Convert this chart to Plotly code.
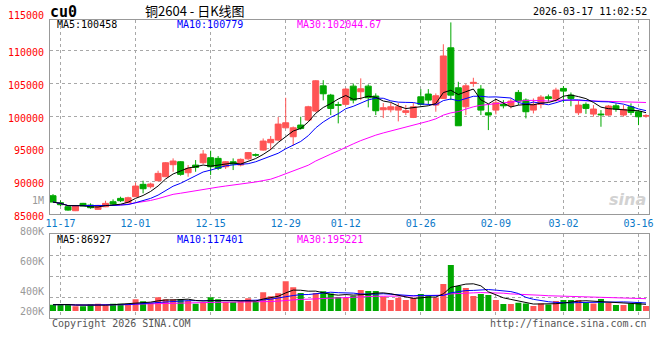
import plotly.graph_objects as go
import pandas as pd

# ---------------- data ----------------
dates = ["11-14",
         "11-17", "11-18", "11-19", "11-20", "11-21",
         "11-24", "11-25", "11-26", "11-27", "11-28",
         "12-01", "12-02", "12-03", "12-04", "12-05",
         "12-08", "12-09", "12-10", "12-11", "12-12",
         "12-15", "12-16", "12-17", "12-18", "12-19",
         "12-22", "12-23", "12-24", "12-25", "12-26",
         "12-29", "12-30", "12-31",
         "01-05", "01-06", "01-07", "01-08", "01-09",
         "01-12", "01-13", "01-14", "01-15", "01-16",
         "01-19", "01-20", "01-21", "01-22", "01-23",
         "01-26", "01-27", "01-28", "01-29", "01-30",
         "02-02", "02-03", "02-04", "02-05", "02-06",
         "02-09", "02-10", "02-11", "02-12", "02-13",
         "02-24", "02-25", "02-26", "02-27",
         "03-02", "03-03", "03-04", "03-05", "03-06",
         "03-09", "03-10", "03-11", "03-12", "03-13",
         "03-16", "03-17"]

opens = [87800, 86730, 86120, 85500, 86630, 86370, 85710, 86110, 86880, 87390,
         86730, 87650, 89540, 89180, 90100, 90710, 92550, 93000, 91320, 92490,
         92850, 93620, 93520, 92230, 93000, 92500, 93450, 94080, 94790, 95910,
         96320, 98200, 96830, 98620, 99380, 100760, 104630, 103210, 101750, 101790,
         104580, 103720, 104580, 103060, 100960, 100960, 100910, 100560, 99790, 102950,
         103370, 101680, 102700, 110450, 104330, 101420, 105000, 104130, 100500, 100910,
         101790, 101570, 103620, 102450, 100910, 101790, 102950, 102600, 104230, 103210,
         100500, 101790, 100300, 100300, 100150, 101570, 100150, 101420, 100660, 99990]

highs = [88050, 87080, 86200, 86300, 86700, 86630, 86400, 87030, 87240, 87650,
         87650, 89790, 90100, 89790, 91630, 92950, 93520, 93100, 92500, 93260,
         94790, 94690, 93870, 93100, 93520, 93500, 94500, 94270, 96570, 96940,
         99850, 102800, 98400, 99900, 101570, 105500, 105500, 103400, 102180, 104300,
         104990, 105770, 104850, 103470, 101990, 101990, 101990, 101680, 101990, 104130,
         104130, 103470, 111000, 114340, 105250, 104940, 105860, 104740, 101680, 102440,
         102440, 102700, 103980, 102700, 102700, 103200, 103300, 104330, 104600, 103610,
         102440, 102090, 101680, 100910, 101680, 101940, 101680, 101940, 100910, 100300]

lows = [86800, 86220, 85500, 85450, 86200, 85800, 85650, 86050, 86370, 86830,
        86700, 87600, 88160, 88920, 90000, 90650, 91470, 90860, 90700, 91470,
        92650, 90960, 91730, 91900, 91730, 92300, 93300, 93770, 94690, 94790,
        96200, 98100, 95500, 97920, 99230, 100600, 102400, 100150, 98880, 101600,
        101940, 102440, 101330, 100150, 99690, 100560, 99180, 100150, 99690, 101680,
        101790, 100660, 102600, 102450, 98510, 100150, 104480, 100150, 97850, 100250,
        101170, 101170, 101680, 99640, 100400, 101180, 102190, 102200, 102050, 101500,
        100150, 100330, 99900, 98360, 100050, 100660, 99900, 100150, 98610, 99740]

closes = [86830, 86420, 85600, 86270, 86220, 85960, 86320, 86630, 86520, 87030,
          87490, 89280, 88870, 89590, 91220, 92850, 93110, 91070, 91990, 92140,
          94180, 92240, 91990, 93000, 92650, 93370, 94400, 94020, 96170, 96430,
          98770, 98970, 98200, 98110, 101420, 105400, 103410, 101170, 101650, 104130,
          102440, 104180, 102800, 100810, 101270, 101420, 101420, 100810, 101420, 101790,
          102440, 103110, 109200, 103200, 98510, 104630, 105150, 100910, 100150, 102030,
          101570, 102290, 102290, 100660, 101790, 102900, 102700, 103980, 103820, 102700,
          101680, 101170, 101070, 100200, 101530, 101070, 101020, 100560, 99890, 100060]

volumes = [100800, 107200, 100800, 75200, 75200, 107200, 116800, 91200, 116800, 116800,
           116800, 187200, 155200, 132800, 219200, 187200, 187200, 187200, 164800, 116800,
           144000, 219200, 187200, 144000, 144000, 155200, 203200, 155200, 299200, 235200,
           283200, 475200, 379200, 288000, 160000, 288000, 315200, 280000, 224000, 208000,
           244800, 336000, 320000, 320000, 228800, 176000, 212800, 176000, 212800, 272000,
           240000, 216000, 432000, 736000, 400000, 368000, 240000, 272000, 256000, 176000,
           112000, 112000, 132800, 120000, 80000, 120000, 104000, 160000, 176000, 176000,
           176000, 132800, 120000, 192000, 128000, 96000, 96000, 120000, 144000, 80000]

tick_labels = ["11-17", "12-01", "12-15", "12-29", "01-12", "01-26", "02-09", "03-02", "03-16"]
price_ticks = [85000, 90000, 95000, 100000, 105000, 110000]
price_top_label = "115000"
vol_labels = ["1M", "800K", "600K", "400K", "200K"]

price_ma_text = ["MA5:100458", "MA10:100779", "MA30:102044.67"]
vol_ma_text = ["MA5:86927", "MA10:117401", "MA30:195221"]

# ---------------- styling helpers ----------------
W, H = 660, 360
def fx(p):
    return p / W
def fy(p):
    return 1 - p / H

RED = "#ff5555"
GREEN = "#00a800"
BLACK = "#000000"
BLUE = "#0000ff"
MAG = "#ff00ff"
MONO = "DejaVu Sans Mono"

close_s = pd.Series(closes, dtype=float)
vol_s = pd.Series(volumes, dtype=float)
ma = {n: close_s.rolling(n, min_periods=1).mean() for n in (5, 10, 30)}
vma = {n: vol_s.rolling(n, min_periods=1).mean() for n in (5, 10, 30)}
vol_colors = [RED if c >= o else GREEN for o, c in zip(opens, closes)]

fig = go.Figure()
fig.add_trace(go.Candlestick(
    x=dates, open=opens, high=highs, low=lows, close=closes,
    increasing=dict(line=dict(color=RED, width=1), fillcolor=RED),
    decreasing=dict(line=dict(color=GREEN, width=1), fillcolor=GREEN),
    whiskerwidth=0, xaxis="x", yaxis="y", hoverinfo="skip", showlegend=False))
for n, col in ((30, MAG), (10, BLUE), (5, BLACK)):
    fig.add_trace(go.Scatter(x=dates, y=ma[n], mode="lines", line=dict(color=col, width=1),
                             xaxis="x", yaxis="y", hoverinfo="skip", showlegend=False))

fig.add_trace(go.Bar(x=dates, y=volumes, marker=dict(color=vol_colors, line=dict(width=0)),
                     width=0.8, xaxis="x2", yaxis="y2", hoverinfo="skip", showlegend=False))
for n, col in ((30, MAG), (10, BLUE), (5, BLACK)):
    fig.add_trace(go.Scatter(x=dates, y=vma[n], mode="lines", line=dict(color=col, width=1),
                             xaxis="x2", yaxis="y2", hoverinfo="skip", showlegend=False))

grid = dict(showgrid=True, gridcolor="#a8a8a8", griddash="dot", gridwidth=1,
            showline=True, linecolor="#999999", linewidth=1, mirror=True,
            zeroline=False, ticks="", automargin=False)

xdom = [fx(50), fx(649)]
fig.update_layout(
    template="none",
    width=W, height=H, margin=dict(l=0, r=0, t=0, b=0, pad=0, autoexpand=False),
    paper_bgcolor="white", plot_bgcolor="white", showlegend=False,
    boxgap=0.2, boxgroupgap=0, bargap=0.2, hovermode=False,
    xaxis=dict(type="category", domain=xdom, anchor="y", range=[-0.4, 79.4],
               tickmode="array", tickvals=tick_labels, ticktext=tick_labels,
               tickfont=dict(family=MONO, size=10, color="#0a78c8"),
               rangeslider=dict(visible=False), **grid),
    yaxis=dict(domain=[fy(214), fy(20)], anchor="x", range=[85000, 114709],
               tickmode="array", tickvals=price_ticks, ticktext=[str(v) for v in price_ticks],
               tickfont=dict(family=MONO, size=10, color="#ff0000"),
               ticklabelstandoff=3, ticklabelshift=2, **grid),
    xaxis2=dict(type="category", domain=xdom, anchor="y2", matches="x",
                tickmode="array", tickvals=tick_labels, showticklabels=False, **grid),
    yaxis2=dict(domain=[fy(318.3), fy(234.3)], anchor="x2", range=[-116800, 1227200],
                tickmode="linear", tick0=-116800, dtick=336000, showticklabels=False, **grid),
)

ann = []
def text(s, x, y, xanchor="left", size=10, color=BLACK, family=MONO, **kw):
    ann.append(dict(text=s, x=fx(x), y=fy(y), xref="paper", yref="paper",
                    xanchor=xanchor, yanchor="middle", showarrow=False,
                    font=dict(family=family, size=size, color=color), **kw))

text("<b>cu0</b>", 48, 12, size=15)
text("铜2604 - 日K线图", 195, 10.5, xanchor="center", size=13, family="Noto Sans CJK SC")
text("2026-03-17 11:02:52", 649, 12, xanchor="right")
text(price_top_label, 46, 16, xanchor="right", color="#ff0000")
for s, x, c in zip(price_ma_text, (55, 175, 295), (BLACK, BLUE, MAG)):
    text(s, x, 25, color=c)
for s, x, c in zip(vol_ma_text, (55, 175, 295), (BLACK, BLUE, MAG)):
    text(s, x, 239.5, color=c)
for s, y in zip(vol_labels, (200.7, 231, 261, 291, 311)):
    text(s, 46, y, xanchor="right", color="#999999")
text("Copyright 2026 SINA.COM", 50, 323.5, color="#555555")
text("http://finance.sina.com.cn", 649, 323.5, xanchor="right", color="#555555")
text("<b><i>sina</i></b>", 648, 199, xanchor="right", size=16, color="#d2d2d2", family="DejaVu Sans")
fig.update_layout(annotations=ann)

fig.write_html("out.html", config={"displayModeBar": False, "staticPlot": True},
               post_script="document.body.style.margin='0px';")
